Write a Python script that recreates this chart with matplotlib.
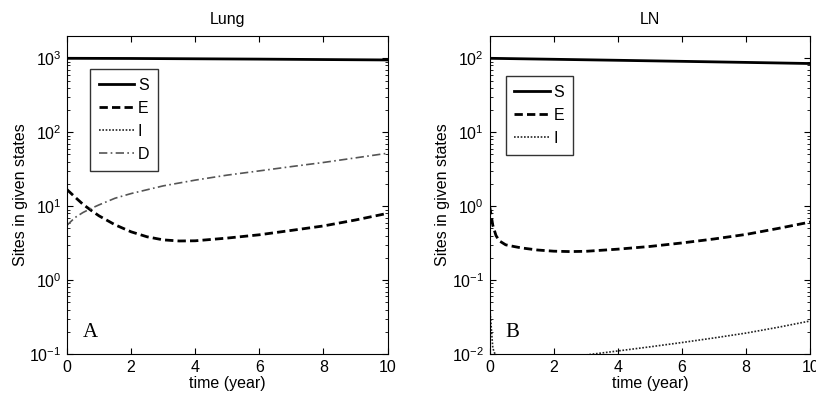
import numpy as np
import matplotlib
matplotlib.use("Agg")
import matplotlib.pyplot as plt
from matplotlib.ticker import LogLocator, NullFormatter

plt.rcParams['font.family'] = ['Liberation Sans', 'DejaVu Sans']
plt.rcParams['font.size'] = 11.5
plt.rcParams['mathtext.fontset'] = 'custom'
plt.rcParams['mathtext.rm'] = 'Liberation Sans'

# Lung panel
lung_t_S = [0, 2, 4, 6, 8, 10]
lung_S = [1000, 995, 985, 975, 962, 950]
lung_t_E = [0, 0.25, 0.5, 0.75, 1, 1.5, 2, 2.5, 3, 3.5, 4, 5, 6, 7, 8, 9, 10]
lung_E = [16.8, 13.3, 10.6, 8.8, 7.4, 5.6, 4.5, 3.85, 3.5, 3.38, 3.4, 3.7, 4.1, 4.7, 5.4, 6.5, 8.0]
lung_t_I = [0, 2, 4, 6, 8, 10]
lung_I = [0.02, 0.01, 0.01, 0.012, 0.015, 0.02]
lung_t_D = [0, 0.25, 0.5, 0.75, 1, 1.5, 2, 3, 4, 5, 6, 7, 8, 9, 10]
lung_D = [5.5, 7.0, 8.2, 9.3, 10.4, 12.8, 14.8, 18.8, 22.5, 26.3, 30, 34.3, 39, 45, 52]

# LN panel
ln_t_S = [0, 2, 4, 6, 8, 10]
ln_S = [100, 97, 94, 91, 88, 85]
ln_t_E = [0, 0.05, 0.1, 0.2, 0.3, 0.5, 0.75, 1, 1.5, 2, 2.5, 3, 4, 5, 6, 7, 8, 9, 10]
ln_E = [1.0, 0.75, 0.55, 0.4, 0.34, 0.3, 0.285, 0.272, 0.255, 0.246, 0.243, 0.245, 0.262, 0.285, 0.318, 0.36, 0.415, 0.5, 0.61]
ln_t_I = [0, 0.02, 0.1, 0.3, 1, 2, 3, 4, 5, 6, 7, 8, 9, 10]
ln_I = [0.0005, 0.035, 0.012, 0.007, 0.006, 0.0078, 0.0097, 0.011, 0.0125, 0.0143, 0.0165, 0.0192, 0.023, 0.028]

fig = plt.figure(figsize=(8.16, 3.94), dpi=100)
ax1 = fig.add_axes([0.082, 0.1015, 0.393, 0.807])
ax2 = fig.add_axes([0.600, 0.1015, 0.393, 0.807])


def style(ax, ylim, title, letter):
    ax.set_yscale('log')
    ax.set_xlim(0, 10)
    ax.set_ylim(*ylim)
    ax.set_xticks([0, 2, 4, 6, 8, 10])
    ax.yaxis.set_minor_locator(LogLocator(base=10, subs=np.arange(2, 10)))
    ax.yaxis.set_minor_formatter(NullFormatter())
    ax.tick_params(which='both', direction='in', top=True, right=True, labelsize=11.5)
    ax.tick_params(which='major', length=4, pad=4)
    ax.tick_params(which='minor', length=2)
    ax.set_title(title, fontsize=11.5, pad=9)
    ax.set_xlabel('time (year)', fontsize=11.5, labelpad=1)
    ax.set_ylabel('Sites in given states', fontsize=11.5, labelpad=1)
    ax.text(0.05, 0.055, letter, transform=ax.transAxes, fontsize=15,
            family='Liberation Serif')


leg_kw = dict(loc='upper left', handlelength=2.2, fancybox=False,
              edgecolor='#333333', framealpha=1, borderpad=0.55,
              labelspacing=0.5, handletextpad=0.25, fontsize=11.5,
              borderaxespad=0)

ax1.plot(lung_t_S, lung_S, color='black', lw=2, label='S')
ax1.plot(lung_t_E, lung_E, color='black', lw=2, ls=(0, (3, 1.5)), label='E')
ax1.plot(lung_t_I, lung_I, color='#222222', lw=1.2, ls=(0, (1, 1)), label='I')
ax1.plot(lung_t_D, lung_D, color='#555555', lw=1.2, ls=(0, (5, 2, 1, 2)), label='D')
style(ax1, (0.1, 2000), 'Lung', 'A')
ax1.legend(bbox_to_anchor=(0.072, 0.896), **leg_kw)

ax2.plot(ln_t_S, ln_S, color='black', lw=2, label='S')
ax2.plot(ln_t_E, ln_E, color='black', lw=2, ls=(0, (3, 1.5)), label='E')
ax2.plot(ln_t_I, ln_I, color='#222222', lw=1.2, ls=(0, (1, 1)), label='I')
style(ax2, (0.01, 200), 'LN', 'B')
ax2.legend(bbox_to_anchor=(0.05, 0.874), **leg_kw)

for ax in (ax1, ax2):
    for sp in ax.spines.values():
        sp.set_linewidth(0.8)

fig.savefig('out.png', dpi=100)
